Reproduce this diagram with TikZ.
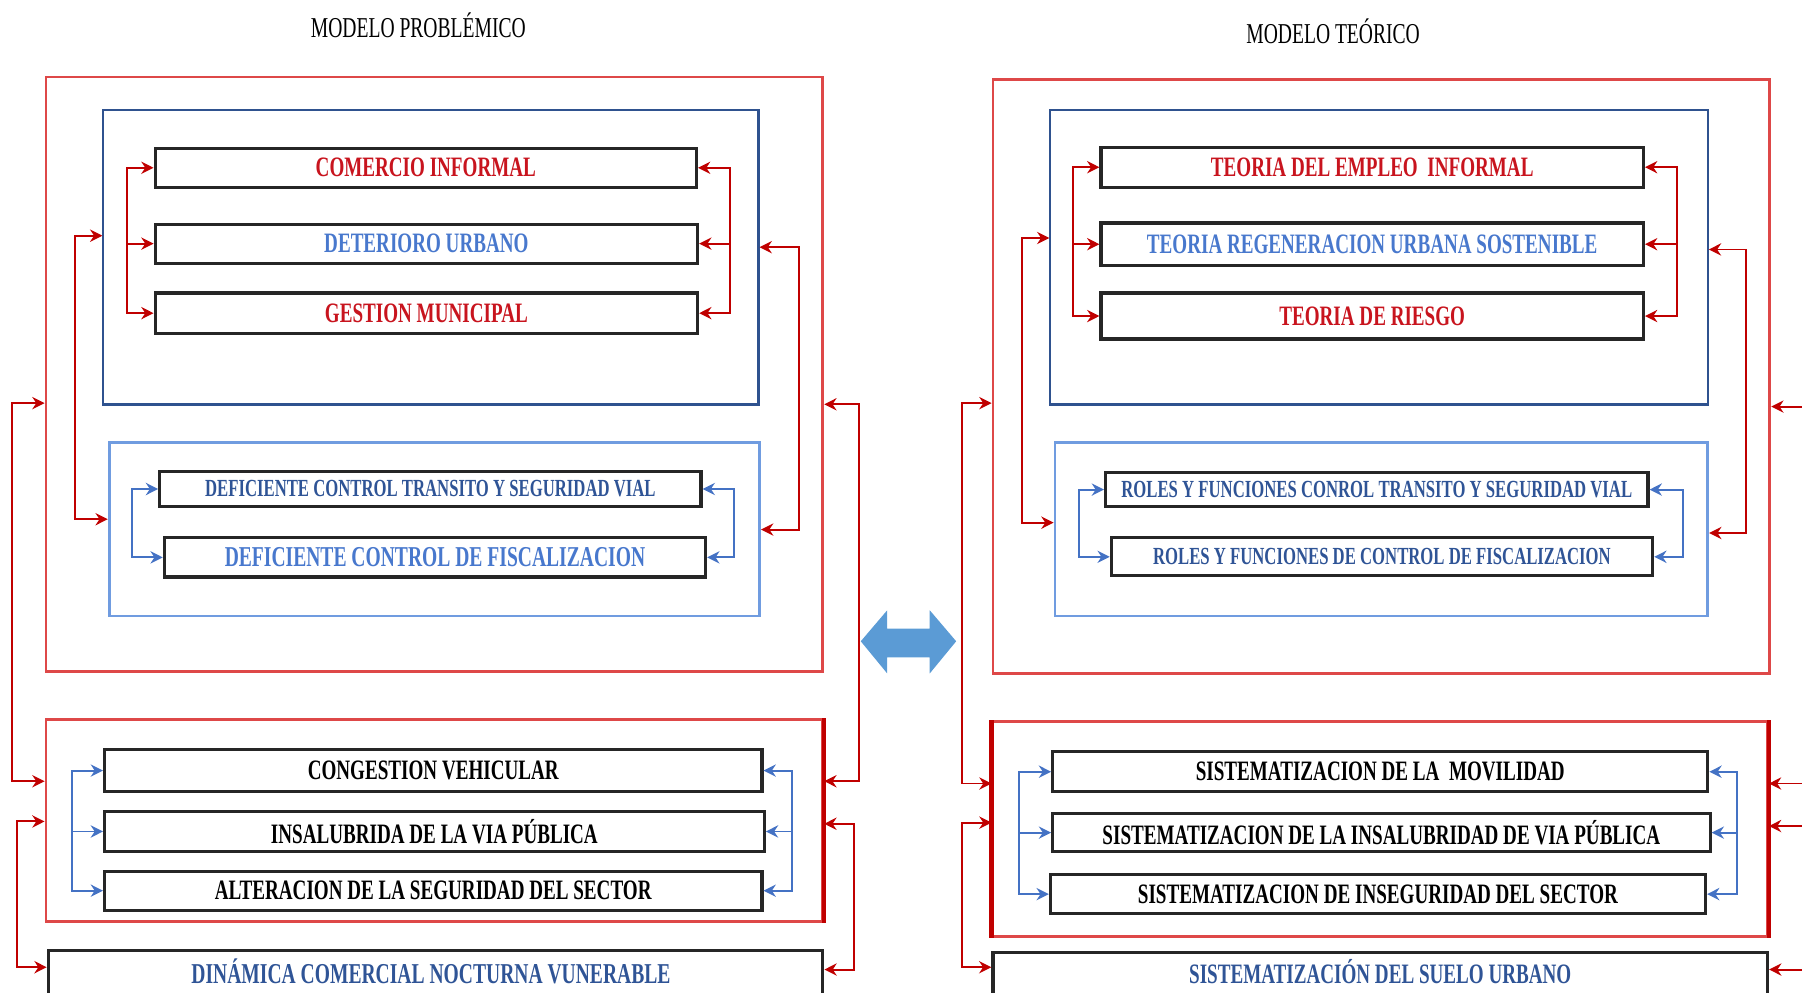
\documentclass[tikz,border=0pt]{standalone}
\usepackage{fontspec}
\setmainfont{Liberation Serif}
\newfontfamily\cnd[FakeStretch=0.68]{Liberation Serif}
\usetikzlibrary{calc,fit,arrows.meta}

\definecolor{rojo}{RGB}{222,72,72}
\definecolor{rojooscuro}{RGB}{192,0,0}
\definecolor{azuloscuro}{RGB}{47,82,143}
\definecolor{azulclaro}{RGB}{112,156,224}
\definecolor{azulfl}{RGB}{68,114,196}
\definecolor{txtrojo}{RGB}{200,20,30}
\definecolor{txtazul}{RGB}{72,120,205}
\definecolor{txtnavy}{RGB}{47,84,150}
\definecolor{flecha}{RGB}{91,155,213}

\tikzset{
 marco/.style={draw=rojo, line width=0.8pt, inner sep=0pt},
 caja/.style={draw=black!85, line width=0.9pt, inner sep=0pt},
 letra/.style={font=\cnd\bfseries\fontsize{8}{9}\selectfont},
 chica/.style={font=\cnd\bfseries\fontsize{7}{8}\selectfont},
 titulo/.style={font=\cnd\fontsize{8.2}{9}\selectfont},
 rc/.style={draw=rojooscuro, line width=0.55pt, >={Stealth[length=3.5pt,width=3.5pt]}},
 bc/.style={draw=azulfl, line width=0.55pt, >={Stealth[length=3.5pt,width=3.5pt]}}
}

\begin{document}
\begin{tikzpicture}[x=0.0115cm,y=-0.0115cm]
 \useasboundingbox (0,0) rectangle (1568,864);
 \clip (0,0) rectangle (1568,864);

 \node[titulo] (t1) at (364,22) {MODELO PROBLÉMICO}; %titulo izq
 \node[titulo] (t2) at (1160,27) {MODELO TEÓRICO}; %titulo der

 % modelo problemico
 \node[marco, fit={(40,67) (716,584)}] (rb1) {};
 \node[draw=azuloscuro, line width=0.6pt, inner sep=0pt, fit={(90,96) (660,352)}] (db1) {};
 \node[caja, fit={(135,129) (606,163)}, label={[letra,text=txtrojo]center:COMERCIO INFORMAL}] (ci) {};
 \node[caja, fit={(135,195) (607,229)}, label={[letra,text=txtazul]center:DETERIORO URBANO}] (du) {};
 \node[caja, fit={(135,255) (607,290)}, label={[letra,text=txtrojo]center:GESTION MUNICIPAL}] (gm) {};
 \draw[rc,<->] (ci.west) -- ++(-23,0) |- (gm.west);
 \draw[rc,->] ($(ci.west)+(-23,0)$) |- (du.west);
 \draw[rc,<->] (ci.east) -- ++(28,0) |- (gm.east);
 \draw[rc,->] ($(ci.east)+(28,0)$) |- (du.east);

 \node[draw=azulclaro, line width=0.8pt, inner sep=0pt, fit={(95,385) (661,536)}] (lb1) {};
 \node[caja, fit={(139,410) (610,441)}, label={[chica,text=txtnavy]center:DEFICIENTE CONTROL TRANSITO Y SEGURIDAD VIAL}] (dt) {};
 \node[caja, fit={(143,468) (614,502)}, label={[letra,text=txtazul,font=\cnd\bfseries\fontsize{8.2}{9}\selectfont]center:DEFICIENTE CONTROL DE FISCALIZACION}] (df) {};
 \draw[bc,<->] (dt.west) -- ++(-23,0) |- (df.west);
 \draw[bc,<->] (dt.east) -- ++(27,0) |- (df.east);

 \draw[rc,<->] ($(db1.north west)+(0,110)$) -- ++(-24,0) |- ($(lb1.north west)+(0,68)$);
 \draw[rc,<->] ($(db1.north east)+(0,120)$) -- ++(34,0) |- ($(lb1.north east)+(0,77)$);

 \node[marco, fit={(40,626) (716,802)}] (rb2) {};
 \draw[rojooscuro, line width=1.2pt] (rb2.north east) -- (rb2.south east);
 \node[caja, fit={(91,652) (663,689)}, label={[letra]center:CONGESTION VEHICULAR}] (cv) {};
 \node[caja, fit={(91,706) (665,741)}, label={[letra]center:INSALUBRIDA DE LA VIA PÚBLICA}] (ip) {};
 \node[caja, fit={(91,758) (663,792)}, label={[letra]center:ALTERACION DE LA SEGURIDAD DEL SECTOR}] (as) {};
 \draw[bc,<->] (cv.west) -- ++(-27,0) |- (as.west);
 \draw[bc,->] ($(cv.west)+(-27,0)$) |- (ip.west);
 \draw[bc,<->] (cv.east) -- ++(25,0) |- (as.east);
 \draw[bc,->] ($(cv.east)+(25,0)$) |- (ip.east);

 \draw[rc,<->] ($(rb1.north west)+(0,285)$) -- ++(-28,0) |- ($(rb2.north west)+(0,55)$);
 \draw[rc,<->] ($(rb1.north east)+(0,286)$) -- ++(30,0) |- ($(rb2.north east)+(0,55)$);

 \node[caja, fit={(42,827) (716,868)}] (dn) {};
 \node[letra, text=txtnavy, font=\cnd\bfseries\fontsize{8.2}{9}\selectfont] (dnt) at (375,845) {DINÁMICA COMERCIAL NOCTURNA VUNERABLE};
 \draw[rc,<->] ($(rb2.north west)+(0,90)$) -- ++(-24,0) |- ($(dn.north west)+(0,16)$);
 \draw[rc,<->] ($(rb2.north east)+(0,92)$) -- ++(26,0) |- ($(dn.north east)+(0,18)$);

 % flecha doble
 \fill[flecha] (749,558) -- (772,531) -- (772,547) -- (809,547) -- (809,531) -- (832,558)
   -- (809,586) -- (809,572) -- (772,572) -- (772,586) -- cycle;

 % modelo teorico
 \node[marco, fit={(864,69) (1540,586)}] (rb3) {};
 \node[draw=azuloscuro, line width=0.6pt, inner sep=0pt, fit={(914,96) (1486,352)}] (db2) {};
 \node[caja, fit={(958,128) (1430,163)}, label={[letra,text=txtrojo]center:TEORIA DEL EMPLEO\ \ INFORMAL}] (te) {};
 \node[caja, fit={(958,194) (1430,231)}, label={[letra,text=txtazul]center:TEORIA REGENERACION URBANA SOSTENIBLE}] (tr) {};
 \node[caja, fit={(958,255) (1430,295)}, label={[letra,text=txtrojo]center:TEORIA DE RIESGO}] (tg) {};
 \draw[rc,<->] (te.west) -- ++(-23,0) |- (tg.west);
 \draw[rc,->] ($(te.west)+(-23,0)$) |- (tr.west);
 \draw[rc,<->] (te.east) -- ++(28,0) |- (tg.east);
 \draw[rc,->] ($(te.east)+(28,0)$) |- (tr.east);

 \node[draw=azulclaro, line width=0.8pt, inner sep=0pt, fit={(918,385) (1486,536)}] (lb2) {};
 \node[caja, fit={(962,411) (1434,441)}, label={[chica,text=txtnavy]center:ROLES Y FUNCIONES CONROL TRANSITO Y SEGURIDAD VIAL}] (rt) {};
 \node[caja, fit={(967,468) (1438,501)}, label={[chica,text=txtnavy]center:ROLES Y FUNCIONES DE CONTROL DE FISCALIZACION}] (rf) {};
 \draw[bc,<->] (rt.west) -- ++(-22,0) |- (rf.west);
 \draw[bc,<->] (rt.east) -- ++(29,0) |- (rf.east);

 \draw[rc,<->] ($(db2.north west)+(0,112)$) -- ++(-24,0) |- ($(lb2.north west)+(0,71)$);
 \draw[rc,<->] ($(db2.north east)+(0,122)$) -- ++(32,0) |- ($(lb2.north east)+(0,80)$);

 \node[marco, fit={(864,628) (1538,815)}] (rb4) {};
 \draw[rojooscuro, line width=1.2pt] (rb4.north west) -- (rb4.south west);
 \draw[rojooscuro, line width=1.2pt] (rb4.north east) -- (rb4.south east);
 \node[caja, fit={(916,654) (1486,689)}, label={[letra]center:SISTEMATIZACION DE LA\ \ MOVILIDAD}] (sm) {};
 \node[caja, fit={(916,708) (1488,741)}, label={[letra]center:SISTEMATIZACION DE LA INSALUBRIDAD DE VIA PÚBLICA}] (si) {};
 \node[caja, fit={(914,761) (1484,795)}, label={[letra]center:SISTEMATIZACION DE INSEGURIDAD DEL SECTOR}] (ss) {};
 \draw[bc,<->] (sm.west) -- ++(-28,0) |- (ss.west);
 \draw[bc,->] ($(sm.west)+(-28,0)$) |- (si.west);
 \draw[bc,<->] (sm.east) -- ++(24,0) |- (ss.east);
 \draw[bc,->] ($(sm.east)+(24,0)$) |- (si.east);

 \draw[rc,<->] ($(rb3.north west)+(0,283)$) -- ++(-26,0) |- ($(rb4.north west)+(0,55)$);
 \draw[rc,<->] ($(rb3.north east)+(0,286)$) -- ++(40,0) |- ($(rb4.north east)+(0,55)$);

 \node[caja, fit={(864,829) (1538,868)}] (su) {};
 \node[letra, text=txtnavy] (sut) at (1201,845) {SISTEMATIZACIÓN DEL SUELO URBANO};
 \draw[rc,<->] ($(rb4.north west)+(0,89)$) -- ++(-26,0) |- ($(su.north west)+(0,14)$);
 \draw[rc,<->] ($(rb4.north east)+(0,92)$) -- ++(36,0) |- ($(su.north east)+(0,16)$);
\end{tikzpicture}
\end{document}
